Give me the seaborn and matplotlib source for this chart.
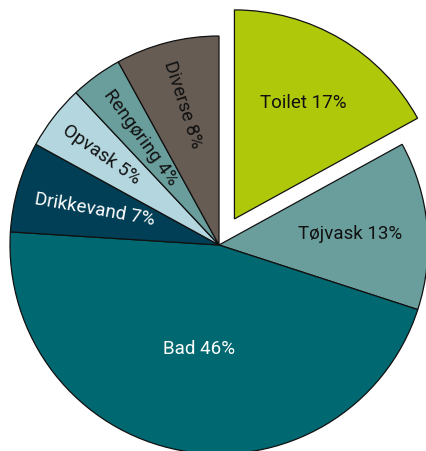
import numpy as np
import matplotlib
matplotlib.use("Agg")
import matplotlib.pyplot as plt
import seaborn as sns

sns.set_style("white")
plt.rcParams['font.family'] = ['Roboto', 'DejaVu Sans']

# data (clockwise from top)
categories = ["Toilet", "Tøjvask", "Bad", "Drikkevand", "Opvask", "Rengøring", "Diverse"]
shares = [17, 13, 46, 7, 5, 4, 8]
colors = ["#afc80a", "#6a9e9c", "#006870", "#003f55", "#b3d6df", "#6a9e9c", "#665c54"]
text_colors = ["#111111", "#111111", "white", "white", "#111111", "#111111", "#111111"]
explode = [0.145, 0, 0, 0, 0, 0, 0]
label_dist = [0.65, 0.63, 0.50, 0.62, 0.71, 0.64, 0.70]
rotations = [0, 0, 0, -10, -35, -54, -72]

fig = plt.figure(figsize=(4.26, 4.52), dpi=100)
ax = fig.add_axes([0, 0, 1, 1])

wedges, _ = ax.pie(shares, colors=colors, startangle=90, counterclock=False,
                   explode=explode, radius=1.0,
                   wedgeprops=dict(edgecolor="#111111", linewidth=0.9))

for w, cat, val, tc, d, rot in zip(wedges, categories, shares, text_colors, label_dist, rotations):
    mid = np.deg2rad((w.theta1 + w.theta2) / 2)
    cx, cy = w.center
    ax.text(cx + d * np.cos(mid), cy + d * np.sin(mid), f"{cat} {val}%",
            ha="center", va="center", rotation=rot, rotation_mode="anchor",
            color=tc, fontsize=13.5)

# pixel mapping: radius 209 px, centre at (219, 246) from top-left
ax.set_aspect("auto")
ax.set_xlim(-219 / 209, (426 - 219) / 209)
ax.set_ylim(-206 / 209, (452 - 206) / 209)
ax.axis("off")

fig.savefig("out.png", dpi=100)
